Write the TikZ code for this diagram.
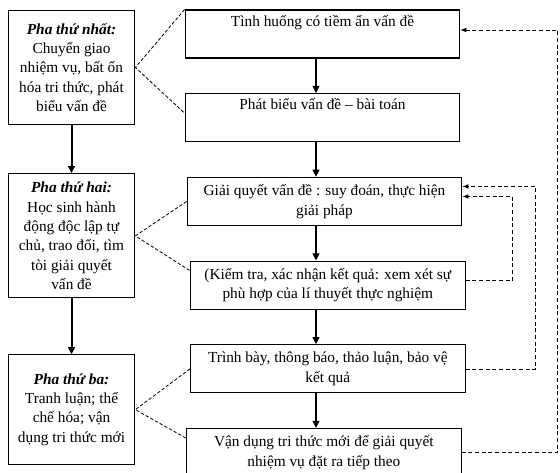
\documentclass[tikz,border=0pt]{standalone}
\usepackage{fontspec}
\setmainfont{Liberation Serif}
\usepackage{tikz}
\usetikzlibrary{arrows.meta, positioning, calc}

\begin{document}
\begin{tikzpicture}[
  x=0.75pt, y=-0.75pt,
  font=\fontsize{11.5}{14.5}\selectfont,
  pha/.style={draw, line width=0.8pt, rectangle, align=center, minimum width=95pt, inner sep=3pt},
  buoc/.style={draw, line width=0.8pt, rectangle, align=center, minimum width=206pt, minimum height=36pt, inner sep=3pt},
  motdong/.style={text depth=20pt},
  arr/.style={-{Triangle[length=5.5pt,width=5pt]}, line width=1.5pt},
  noi/.style={line width=0.6pt, dash pattern=on 2.5pt off 1.5pt},
  vong/.style={-{Latex[length=4.5pt,width=3.5pt]}, line width=0.6pt, dash pattern=on 3pt off 2pt},
  node distance=26pt
]
\useasboundingbox (0,0) rectangle (560,473);

% cac pha ben trai
\node[pha, minimum height=86pt] (pha1) at (71.5,67.5)
  {\textbf{\textit{Pha thứ nhất:}}\\ Chuyển giao\\ nhiệm vụ, bất ổn\\ hóa tri thức, phát\\ biểu vấn đề};
\node[pha, minimum height=93pt, below=36pt of pha1] (pha2)
  {\textbf{\textit{Pha thứ hai:}}\\ Học sinh hành\\ động độc lập tự\\ chủ, trao đổi, tìm\\ tòi giải quyết\\ vấn đề};
\node[pha, minimum height=82pt, below=42pt of pha2] (pha3)
  {\textbf{\textit{Pha thứ ba:}}\\ Tranh luận; thể\\ chế hóa; vận\\ dụng tri thức mới};

% cac buoc ben phai
\node[buoc, motdong] (tinhhuong) at (322.5,34) {Tình huống có tiềm ẩn vấn đề};
\node[buoc, motdong, below=of tinhhuong] (phatbieu) {Phát biểu vấn đề – bài toán};
\node[buoc, below=of phatbieu, xshift=1.5pt] (giaiquyet) {Giải quyết vấn đề : suy đoán, thực hiện\\ giải pháp};
\node[buoc, below=of giaiquyet, xshift=2.5pt] (kiemtra) {(Kiểm tra, xác nhận kết quả: xem xét sự\\ phù hợp của lí thuyết thực nghiệm};
\node[buoc, below=of kiemtra] (trinhbay) {Trình bày, thông báo, thảo luận, bảo vệ\\ kết quả};
\node[buoc, below=of trinhbay, xshift=-3pt] (vandung) {Vận dụng tri thức mới để giải quyết\\ nhiệm vụ đặt ra tiếp theo};
\coordinate (truc) at (316,0);

\draw[arr] (pha1) -- (pha2);
\draw[arr] (pha2) -- (pha3);
\draw[arr] (tinhhuong.south -| truc) -- (phatbieu.north -| truc);
\draw[arr] (phatbieu.south -| truc) -- (giaiquyet.north -| truc);
\draw[arr] (giaiquyet.south -| truc) -- (kiemtra.north -| truc);
\draw[arr] (kiemtra.south -| truc) -- (trinhbay.north -| truc);
\draw[arr] (trinhbay.south -| truc) -- (vandung.north -| truc);

% duong noi pha - buoc
\draw[noi] (tinhhuong.north west) -- (pha1.east) -- ($(phatbieu.north west)+(0,20)$);
\draw[noi] (giaiquyet.west) -- (pha2.east) -- ($(kiemtra.north west)+(0,10)$);
\draw[noi] (trinhbay.west) -- (pha3.east) -- ($(vandung.north west)+(0,10)$);

% vong phan hoi
\draw[vong] (vandung.east) -- ++(96,0) |- ($(tinhhuong.east)+(0,-4)$);
\draw[vong] (trinhbay.east) -- ++(70,0) |- ($(giaiquyet.east)+(0,-15)$);
\draw[vong] ($(kiemtra.east)+(0,-5)$) -- ++(47,0) |- ($(giaiquyet.east)+(0,-5)$);
\end{tikzpicture}
\end{document}
